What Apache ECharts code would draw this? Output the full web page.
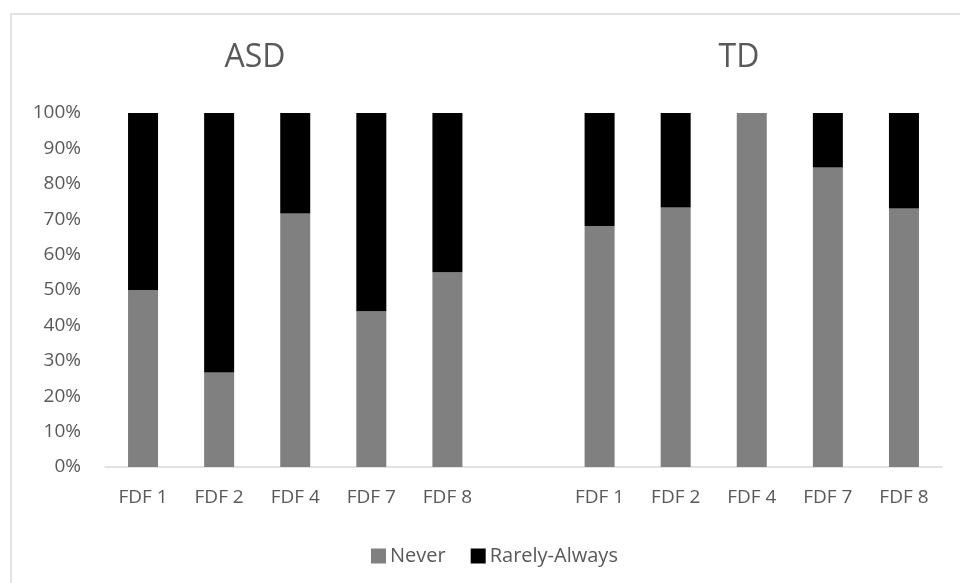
<!DOCTYPE html>
<html>
<head>
<meta charset="utf-8">
<script src="https://cdn.jsdelivr.net/npm/echarts@6/dist/echarts.min.js"></script>
<style>
  html, body { margin: 0; padding: 0; background: #ffffff; }
  #chart { width: 960px; height: 583px; }
</style>
</head>
<body>
<div id="chart"></div>
<script>
// Frequency items shown for each group
const fdfLabels = ['FDF 1', 'FDF 2', 'FDF 4', 'FDF 7', 'FDF 8'];
const groupNames = ['ASD', 'TD'];

// Share of answers (%) per item
const asdNever  = [50.0, 26.7, 71.6, 44.0, 55.0];
const asdRarely = [50.0, 73.3, 28.4, 56.0, 45.0];
const tdNever   = [68.1, 73.3, 100.0, 84.6, 73.0];
const tdRarely  = [31.9, 26.7, 0.0, 15.4, 27.0];

const yTicks = { min: 0, max: 100, interval: 10 };

// One empty slot separates the two groups on the category axis
const categories = fdfLabels.concat([''], fdfLabels);
const neverData  = asdNever.concat([null], tdNever);
const rarelyData = asdRarely.concat([null], tdRarely);

const FONT = '"Open Sans", "Noto Sans", sans-serif';
const TEXT = '#595959';

const chart = echarts.init(document.getElementById('chart'), null, { renderer: 'canvas' });

chart.setOption({
  backgroundColor: '#ffffff',
  animation: false,
  textStyle: { fontFamily: FONT },
  graphic: [
    {
      type: 'rect',
      shape: { x: 11, y: 14, width: 1000, height: 620 },
      style: { fill: 'none', stroke: '#d9d9d9', lineWidth: 1.5 },
      silent: true,
      z: -10
    },
    {
      type: 'text',
      x: 255, y: 58,
      style: {
        text: groupNames[0], fill: TEXT, font: '32px ' + FONT,
        textAlign: 'center', textVerticalAlign: 'middle'
      }
    },
    {
      type: 'text',
      x: 739, y: 58,
      style: {
        text: groupNames[1], fill: TEXT, font: '32px ' + FONT,
        textAlign: 'center', textVerticalAlign: 'middle'
      }
    }
  ],
  legend: {
    left: 366,
    top: 541,
    itemWidth: 15,
    itemHeight: 15,
    itemGap: 25,
    icon: 'rect',
    textStyle: { color: TEXT, fontSize: 20, fontFamily: FONT, padding: [0, 0, 0, -1] },
    data: ['Never', 'Rarely-Always']
  },
  grid: { left: 105, right: 18, top: 113, bottom: 116, containLabel: false },
  xAxis: {
    type: 'category',
    data: categories,
    axisLine: { lineStyle: { color: '#d9d9d9', width: 1.5 } },
    axisTick: { show: false },
    axisLabel: { color: TEXT, fontSize: 19, fontFamily: FONT, margin: 21, interval: 0 },
    splitLine: { show: false }
  },
  yAxis: {
    type: 'value',
    min: yTicks.min,
    max: yTicks.max,
    interval: yTicks.interval,
    axisLine: { show: false },
    axisTick: { show: false },
    splitLine: { show: false },
    axisLabel: { color: TEXT, fontSize: 19, fontFamily: FONT, margin: 24, formatter: '{value}%' }
  },
  series: [
    {
      name: 'Never',
      type: 'bar',
      stack: 'share',
      barWidth: 30,
      data: neverData,
      itemStyle: { color: '#808080' }
    },
    {
      name: 'Rarely-Always',
      type: 'bar',
      stack: 'share',
      barWidth: 30,
      data: rarelyData,
      itemStyle: { color: '#000000' }
    }
  ]
});
</script>
</body>
</html>
